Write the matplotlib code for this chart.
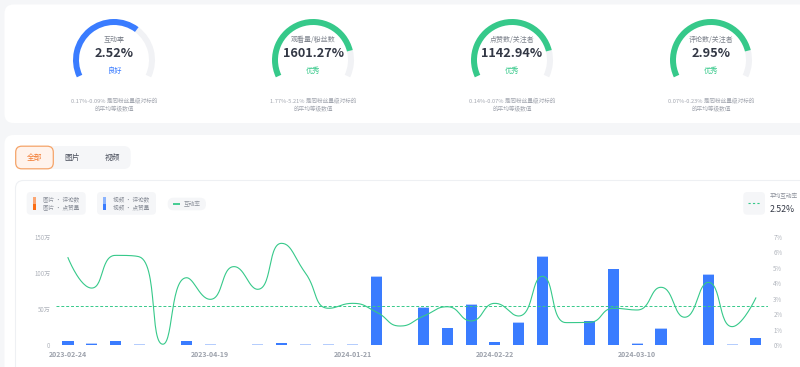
import numpy as np
import matplotlib
matplotlib.use("Agg")
import matplotlib.pyplot as plt
from matplotlib.patches import FancyBboxPatch, Wedge, Rectangle

plt.rcParams['font.family'] = ['Noto Sans CJK SC', 'DejaVu Sans']

W, H = 800, 367

# ---------------- data ----------------
gauge_titles = ["互动率", "观看量/粉丝数", "点赞数/关注者", "评论数/关注者"]
gauge_values = ["2.52%", "1601.27%", "1142.94%", "2.95%"]
gauge_levels = ["良好", "优秀", "优秀", "优秀"]
gauge_fraction = [0.66, 0.83, 0.83, 0.83]
gauge_ranges = ["0.17%-0.09%", "1.77%-5.21%", "0.14%-0.07%", "0.07%-0.23%"]

tabs = ["全部", "图片", "视频"]

tick_labels = ["2023-02-24", "2023-04-19", "2024-01-21", "2024-02-22", "2024-03-10"]
tick_index = [0, 6, 12, 18, 24]

# video likes / comments in 万 (30 posts)
video_likes = [5.0, 1.8, 5.0, 0.0, 0.0, 5.0, 0.0, 0.0, 0.0, 2.2,
               0.0, 0.0, 0.0, 95.0, 0.0, 52.0, 23.0, 56.0, 3.8, 31.0,
               122.0, 0.0, 33.0, 105.0, 1.6, 22.0, 0.0, 97.0, 0.0, 9.5]
video_comments = [0.8, 0.6, 0.8, 1.0, 0.0, 0.8, 1.6, 0.4, 1.6, 0.6,
                  0.8, 0.8, 1.6, 1.0, 0.6, 1.0, 1.0, 1.0, 0.6, 1.0,
                  1.2, 0.6, 1.0, 1.2, 0.6, 1.0, 0.6, 1.2, 1.8, 0.8]
rate = [5.66, 3.69, 5.81, 5.72, 0.05, 4.36, 2.96, 5.08, 3.61, 6.59,
        4.69, 2.38, 2.70, 2.14, 1.23, 1.88, 2.48, 1.56, 2.70, 1.88,
        4.45, 1.45, 1.47, 2.38, 2.27, 3.74, 1.80, 4.06, 1.19, 3.05]
avg_rate = 2.52

left_ticks = [0, 50, 100, 150]
left_tick_labels = ["0", "50万", "100万", "150万"]
right_ticks = [0, 1, 2, 3, 4, 5, 6, 7]

# ---------------- colours ----------------
BG = "#f5f6f8"
BLUE = "#3a7cff"
LBLUE = "#b5cdfd"
GREEN = "#36c98a"
GAUGE_BG = "#f1f2f5"
TXT = "#333845"
MUTED = "#a3a7b0"

fig = plt.figure(figsize=(W / 100, H / 100), dpi=100)
fig.patch.set_facecolor(BG)
bg = fig.add_axes([0, 0, 1, 1])
bg.set_xlim(0, W)
bg.set_ylim(0, H)
bg.axis("off")


def Y(y):
    return H - y


def rbox(x0, y0, x1, y1, fc, ec="none", r=6, lw=0.8, z=1):
    p = FancyBboxPatch((x0, Y(y1)), x1 - x0, y1 - y0,
                       boxstyle=f"round,pad=0,rounding_size={r}",
                       fc=fc, ec=ec, lw=lw, zorder=z)
    bg.add_patch(p)


# cards
rbox(4.5, 4.5, 830, 123, "white", r=9)
rbox(4.5, 135, 830, 420, "white", r=9)
rbox(15.5, 180.5, 830, 420, "white", ec="#eef0f3", r=8, lw=0.8, z=2)

# gauges
centers = [114, 313, 512, 711]
cy = 60
r_out, wid = 41, 6
a_start, a_end = 205, -25
for i, cx in enumerate(centers):
    col = BLUE if i == 0 else GREEN
    a_val = a_start - gauge_fraction[i] * (a_start - a_end)
    bg.add_patch(Wedge((cx, Y(cy)), r_out, a_end, a_val, width=wid,
                       fc=GAUGE_BG, ec="none", zorder=3))
    bg.add_patch(Wedge((cx, Y(cy)), r_out, a_val, a_start, width=wid,
                       fc=col, ec="none", zorder=3))
    bg.text(cx, Y(40), gauge_titles[i], fontsize=5, color="#7d828c",
            ha="center", va="center", zorder=4)
    bg.text(cx, Y(53.5), gauge_values[i], fontsize=9.2, color=TXT,
            fontweight="bold", ha="center", va="center", zorder=4)
    bg.text(cx, Y(71), gauge_levels[i], fontsize=5.2, color=col,
            ha="center", va="center", zorder=4)
    bg.text(cx, Y(101.7), gauge_ranges[i] + " 是同粉丝量级对标的",
            fontsize=4.1, color=MUTED, ha="center", va="center", zorder=4)
    bg.text(cx, Y(109.3), "的平均等级数值", fontsize=4.1, color=MUTED,
            ha="center", va="center", zorder=4)

# tabs
rbox(15.5, 146, 130.7, 169, BG, r=7, z=3)
rbox(15.7, 146.2, 53.3, 168.8, "#fff3ec", ec="#f5a469", r=6, lw=0.9, z=4)
tab_x = [34.5, 72.5, 112]
for i, t in enumerate(tabs):
    bg.text(tab_x[i], Y(157.8), t, fontsize=5.6,
            color="#f27a30" if i == 0 else "#4a4f5c",
            ha="center", va="center", zorder=5)

# legends
rbox(26.7, 192, 85.7, 214.7, BG, r=4, z=3)
bg.add_patch(Rectangle((32.5, Y(203.5)), 3, 6.8, fc="#fba774", ec="none", zorder=4))
bg.add_patch(Rectangle((32.5, Y(210.3)), 3, 6.8, fc="#fb6d14", ec="none", zorder=4))
bg.text(43.3, Y(199), "图片 · 评论数", fontsize=4.1, color="#8a8f99", va="center", zorder=4)
bg.text(43.3, Y(207.8), "图片 · 点赞量", fontsize=4.1, color="#8a8f99", va="center", zorder=4)

rbox(97, 192, 156, 214.7, BG, r=4, z=3)
bg.add_patch(Rectangle((102.8, Y(203.5)), 3, 6.8, fc="#8cb4fd", ec="none", zorder=4))
bg.add_patch(Rectangle((102.8, Y(210.3)), 3, 6.8, fc=BLUE, ec="none", zorder=4))
bg.text(113.3, Y(199), "视频 · 评论数", fontsize=4.1, color="#8a8f99", va="center", zorder=4)
bg.text(113.3, Y(207.8), "视频 · 点赞量", fontsize=4.1, color="#8a8f99", va="center", zorder=4)

rbox(167.7, 197.7, 206, 210.3, BG, r=6, z=3)
bg.plot([173.3, 180.3], [Y(204), Y(204)], color=GREEN, lw=1.3, zorder=4,
        solid_capstyle="butt")
bg.text(184, Y(204), "互动率", fontsize=4.1, color="#8a8f99", va="center", zorder=4)

rbox(743.3, 192, 765, 214.7, BG, r=4, z=3)
bg.plot([747.7, 760.5], [Y(203.3), Y(203.3)], color=GREEN, lw=0.8,
        dashes=(2, 2), zorder=4)
bg.text(769.3, Y(196.7), "平均互动率", fontsize=4.1, color="#8a8f99", va="center", zorder=4)
bg.text(769.3, Y(209.5), f"{avg_rate:.2f}%", fontsize=6.3, color=TXT, va="center", zorder=4)

# ---------------- chart ----------------
px_l, px_r, px_t, px_b = 56.1, 767.7, 237, 345
ax = fig.add_axes([px_l / W, (H - px_b) / H, (px_r - px_l) / W, (px_b - px_t) / H])
ax.set_facecolor("none")
ax.set_zorder(5)
n = len(rate)
x = np.arange(n)
ax.bar(x, video_likes, width=0.47, color=BLUE, zorder=2)
ax.bar(x, video_comments, bottom=video_likes, width=0.47, color=LBLUE, zorder=2)
ax.set_xlim(-0.5, n - 0.5)
ax.set_ylim(0, 150)
ax.set_yticks(left_ticks)
ax.set_yticklabels(left_tick_labels)
ax.set_xticks(tick_index)
ax.set_xticklabels(tick_labels)
ax.tick_params(axis="y", length=0, pad=4, labelsize=4.4, labelcolor="#b0b4bc")
ax.tick_params(axis="x", length=0, pad=4, labelsize=5.0, labelcolor="#9ca1ab")
for lab in ax.get_xticklabels():
    lab.set_fontweight("bold")
for s in ax.spines.values():
    s.set_visible(False)

ax2 = ax.twinx()
ax2.set_ylim(0, 7)
ax2.set_yticks(right_ticks)
ax2.set_yticklabels([f"{v}%" for v in right_ticks])
ax2.tick_params(axis="y", length=0, pad=4, labelsize=4.4, labelcolor="#b0b4bc")
for s in ax2.spines.values():
    s.set_visible(False)


def echarts_smooth(xs, ys, sx, sy, smooth=0.5, k=30):
    """ECharts-style constrained bezier smoothing, computed in pixel space."""
    P = np.column_stack([np.asarray(xs, float) * sx, np.asarray(ys, float) * sy])
    m = len(P)
    out = [P[0]]
    cp0 = P[0].copy()
    for i in range(1, m):
        p = P[i]
        prev = P[i - 1]
        if i == m - 1:
            cp1 = p.copy()
            nxt_cp = p.copy()
        else:
            nxt = P[i + 1]
            v = nxt - prev
            l0 = np.hypot(*(p - prev))
            l1 = np.hypot(*(nxt - p))
            ratio = l1 / (l0 + l1)
            ncp = p + v * smooth * ratio
            ncp = np.minimum(ncp, np.maximum(nxt, p))
            ncp = np.maximum(ncp, np.minimum(nxt, p))
            v = ncp - p
            cp1 = p - v * l0 / l1
            cp1 = np.minimum(cp1, np.maximum(prev, p))
            cp1 = np.maximum(cp1, np.minimum(prev, p))
            v = p - cp1
            nxt_cp = p + v * l1 / l0
        t = np.linspace(0, 1, k)[1:, None]
        seg = ((1 - t) ** 3 * prev + 3 * (1 - t) ** 2 * t * cp0
               + 3 * (1 - t) * t ** 2 * cp1 + t ** 3 * p)
        out.extend(seg)
        cp0 = nxt_cp
    out = np.array(out)
    return out[:, 0] / sx, out[:, 1] / sy


sx = (px_r - px_l) / n
sy = (px_b - px_t) / 7.0
lx, ly = echarts_smooth(x, rate, sx, sy)
ax2.plot(lx, ly, color=GREEN, lw=0.8, zorder=3)
ax2.axhline(avg_rate, color=GREEN, lw=0.7, dashes=(3, 2), zorder=3)

fig.savefig("out.png", dpi=100, facecolor=BG)
